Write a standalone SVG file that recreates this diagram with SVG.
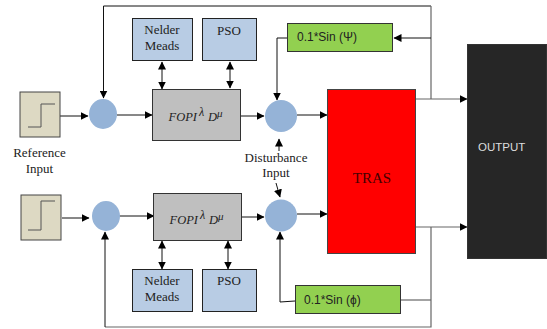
<svg xmlns="http://www.w3.org/2000/svg" width="547" height="329" viewBox="0 0 547 329">
<defs>
<marker id="a" markerUnits="userSpaceOnUse" markerWidth="9" markerHeight="8" refX="7.500" refY="4" orient="auto-start-reverse"><path d="M0 0L8 4L0 8z" fill="#000"/></marker>
</defs>
<style>
.s{font-family:"Liberation Serif",serif;font-size:13px;fill:#222;text-anchor:middle}
.c{font-family:"Liberation Sans",sans-serif;font-size:12px;fill:#222}
.i{font-family:"Liberation Serif",serif;font-style:italic;font-size:12.500px;fill:#222}
.n{fill:#b8cce4;stroke:#222;stroke-width:1}
.f{fill:#bfbfbf;stroke:#333;stroke-width:1}
.g{fill:#92d050;stroke:#333;stroke-width:1}
.st{fill:#ddd9c3;stroke:#444;stroke-width:1}
.o{fill:#95b3d7}
.l{fill:none;stroke:#111;stroke-width:1}
.m{fill:none;stroke:#666;stroke-width:1.2}
.w{fill:none;stroke:#555;stroke-width:1}
</style>
<g id="connectors">
<path class="l" d="M103.500 6H431"/>
<path class="l" d="M103.500 6V98" marker-end="url(#a)"/>
<path class="m" d="M431 6V99"/>
<path class="l" d="M431 38H394" marker-end="url(#a)"/>
<path class="l" d="M287 38H277V100" marker-end="url(#a)"/>
<path class="l" d="M60 116H88" marker-end="url(#a)"/>
<path class="l" d="M117 115H152" marker-end="url(#a)"/>
<path class="l" d="M241 116H264" marker-end="url(#a)"/>
<path class="l" d="M297 115H327" marker-end="url(#a)"/>
<path class="l" d="M162 62V89" marker-start="url(#a)" marker-end="url(#a)"/>
<path class="l" d="M230 62V88" marker-start="url(#a)" marker-end="url(#a)"/>
<path class="m" d="M416 99H467" marker-end="url(#a)"/>
<path class="m" d="M416 227H467" marker-end="url(#a)"/>
<path class="m" d="M431 227V327H105"/>
<path class="l" d="M105 327V232" marker-end="url(#a)"/>
<path class="m" d="M401 300H431"/>
<path class="l" d="M295 301L280 302V232" marker-end="url(#a)"/>
<path class="l" d="M62 218H89" marker-end="url(#a)"/>
<path class="l" d="M119 216H154" marker-end="url(#a)"/>
<path class="l" d="M241 217H264" marker-end="url(#a)"/>
<path class="l" d="M297 214H327" marker-end="url(#a)"/>
<path class="l" d="M162 241V269" marker-start="url(#a)" marker-end="url(#a)"/>
<path class="l" d="M228 241V269" marker-start="url(#a)" marker-end="url(#a)"/>
<path class="l" d="M279 151V139" marker-end="url(#a)"/>
<path class="l" d="M276 183L280 197" marker-end="url(#a)"/>
</g>
<g id="step-top"><rect class="st" x="20" y="92" width="40" height="45"/><path class="w" d="M28 127H41V104H55"/></g>
<g id="step-bottom"><rect class="st" x="21" y="195" width="40" height="45"/><path class="w" d="M28 230H41V201H55"/></g>
<g id="sum-1"><ellipse class="o" cx="103" cy="114" rx="14" ry="15"/></g>
<g id="sum-2"><ellipse class="o" cx="106" cy="216" rx="14" ry="15"/></g>
<g id="sum-3"><ellipse class="o" cx="281" cy="116" rx="16" ry="16"/></g>
<g id="sum-4"><ellipse class="o" cx="281" cy="215.500" rx="16" ry="16"/></g>
<g id="fopi-top"><rect class="f" x="152.500" y="89.500" width="88" height="51"/><text class="i" x="168.500" y="121">FOPI<tspan x="199" dy="-5" font-size="12">λ</tspan><tspan x="208" dy="5">D</tspan><tspan x="217" dy="-4" font-size="11">μ</tspan></text></g>
<g id="fopi-bottom"><rect class="f" x="153.500" y="193.500" width="88" height="47"/><text class="i" x="169.500" y="224">FOPI<tspan x="200" dy="-5" font-size="12">λ</tspan><tspan x="209" dy="5">D</tspan><tspan x="218" dy="-4" font-size="11">μ</tspan></text></g>
<g id="nm-top"><rect class="n" x="132.500" y="18.500" width="60" height="42"/><text class="s" x="162" y="34">Nelder</text><text class="s" x="162" y="50">Meads</text></g>
<g id="pso-top"><rect class="n" x="202.500" y="18.500" width="54" height="42"/><text class="s" x="229" y="35">PSO</text></g>
<g id="nm-bottom"><rect class="n" x="132.500" y="269.500" width="60" height="42"/><text class="s" x="162" y="285">Nelder</text><text class="s" x="162" y="301">Meads</text></g>
<g id="pso-bottom"><rect class="n" x="202.500" y="269.500" width="54" height="42"/><text class="s" x="229" y="285">PSO</text></g>
<g id="sin-top"><rect class="g" x="287.500" y="23.500" width="105" height="28"/><text class="c" x="297" y="41">0.1*Sin (Ψ)</text></g>
<g id="sin-bottom"><rect class="g" x="295.500" y="285.500" width="105" height="28"/><text class="c" x="304" y="304">0.1*Sin (ϕ)</text></g>
<g id="tras"><rect x="327.500" y="89.500" width="88" height="164" fill="#f00" stroke="#444"/><text x="372" y="183" font-family="Liberation Serif,serif" font-size="15" fill="#400" text-anchor="middle">TRAS</text></g>
<g id="output"><rect x="467.500" y="44.500" width="79" height="214" fill="#262626" stroke="#333"/><text x="478" y="151" font-family="Liberation Sans,sans-serif" font-size="11.500" fill="#ddd">OUTPUT</text></g>
<g id="label-reference"><text class="s" x="39.500" y="157">Reference</text><text class="s" x="39.500" y="173">Input</text></g>
<g id="label-disturbance"><text class="s" x="276" y="162">Disturbance</text><text class="s" x="276" y="177">Input</text></g>
</svg>
